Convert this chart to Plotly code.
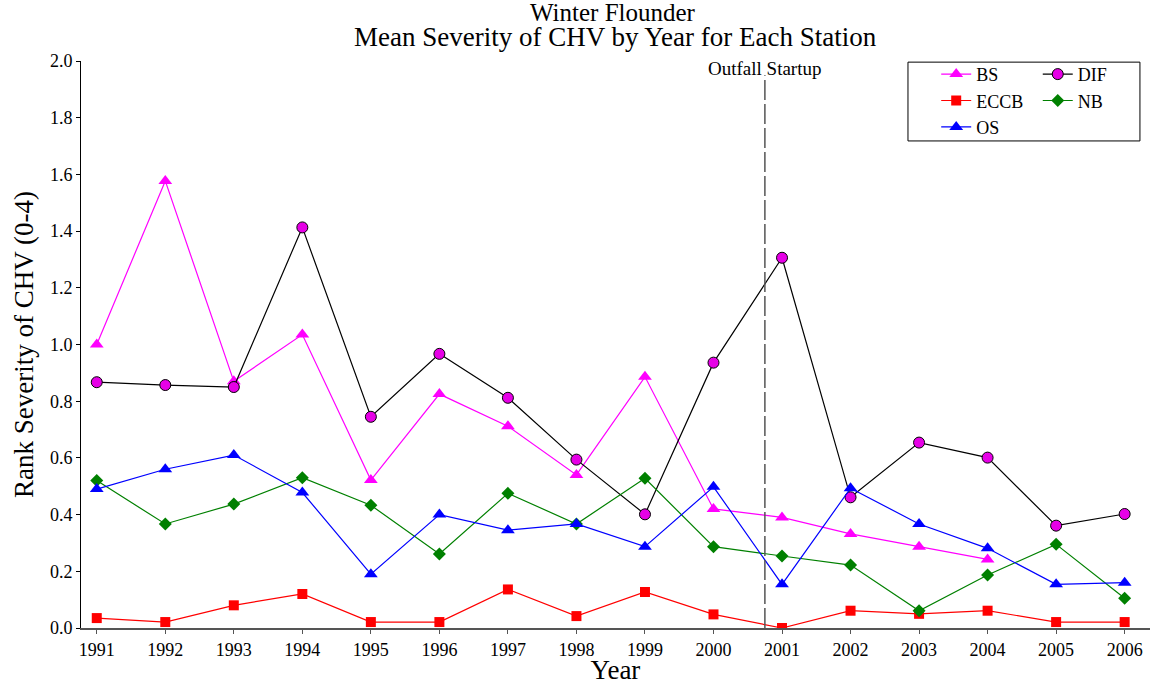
import plotly.graph_objects as go

years = list(range(1991, 2007))

bs = [1.00, 1.577, 0.87, 1.035, 0.522, 0.825, 0.712, 0.54, 0.886, 0.42, 0.39, 0.332, 0.287, 0.242, None, None]
dif = [0.867, 0.857, 0.85, 1.413, 0.745, 0.967, 0.812, 0.594, 0.401, 0.936, 1.306, 0.461, 0.654, 0.601, 0.361, 0.402]
eccb = [0.035, 0.021, 0.08, 0.12, 0.021, 0.021, 0.136, 0.042, 0.127, 0.048, 0.0, 0.061, 0.05, 0.061, 0.021, 0.021]
nb = [0.52, 0.367, 0.437, 0.53, 0.433, 0.261, 0.475, 0.367, 0.528, 0.287, 0.254, 0.222, 0.061, 0.187, 0.295, 0.105]
os_ = [0.49, 0.56, 0.61, 0.478, 0.19, 0.40, 0.345, 0.367, 0.287, 0.498, 0.154, 0.493, 0.367, 0.281, 0.154, 0.16]

startup_year = 2000.75
y_ticks = [0.0, 0.2, 0.4, 0.6, 0.8, 1.0, 1.2, 1.4, 1.6, 1.8, 2.0]

FONT = "Liberation Serif"

fig = go.Figure()

def add(name, vals, color, symbol, size, legend, mcolor=None, mline=None):
    fig.add_trace(go.Scatter(
        x=years, y=vals, name=name, mode="lines+markers", legend=legend,
        line=dict(color=color, width=1.2),
        marker=dict(symbol=symbol, size=size, color=mcolor or color,
                    line=dict(color=mline or (mcolor or color), width=1 if mline else 0)),
        connectgaps=False,
    ))

add("BS", bs, "#FF00FF", "triangle-up", 12, "legend")
add("DIF", dif, "black", "circle", 11, "legend2", mcolor="#E600E6", mline="black")
add("ECCB", eccb, "red", "square", 10, "legend")
add("NB", nb, "green", "diamond", 10, "legend2")
add("OS", os_, "blue", "triangle-up", 12, "legend")

# Outfall startup marker line and label
fig.add_shape(type="line", x0=startup_year, x1=startup_year, y0=0, y1=1.95,
              xref="x", yref="y", line=dict(color="#555555", width=1.5, dash="20px,4px"))
fig.add_annotation(x=startup_year, y=1.972, xref="x", yref="y", text="Outfall Startup",
                   showarrow=False, yanchor="middle",
                   font=dict(family=FONT, size=19, color="black"))

# Titles
fig.add_annotation(x=0.5, y=1, xref="paper", yref="paper", yanchor="bottom", yshift=7,
                   text="Mean Severity of CHV by Year for Each Station", showarrow=False,
                   font=dict(family=FONT, size=27, color="black"))
fig.add_annotation(x=0.498, y=1, xref="paper", yref="paper", yanchor="bottom", yshift=33,
                   text="Winter Flounder", showarrow=False,
                   font=dict(family=FONT, size=25, color="black"))

# Legend frame
fig.add_shape(type="rect", xref="paper", yref="paper", x0=0.7736, x1=0.9906, y0=0.859, y1=0.998,
              line=dict(color="black", width=1), fillcolor="white", layer="above")

leg_common = dict(orientation="v", yanchor="top", y=1.009, xanchor="left",
                  bgcolor="rgba(0,0,0,0)", borderwidth=0,
                  font=dict(family=FONT, size=18, color="black"),
                  itemwidth=30, tracegroupgap=0)

fig.update_layout(
    width=1153, height=685,
    margin=dict(l=81, r=3, t=61, b=57, autoexpand=False),
    paper_bgcolor="white", plot_bgcolor="white",
    font=dict(family=FONT, color="black"),
    showlegend=True,
    legend=dict(x=0.80, **leg_common),
    legend2=dict(x=0.895, **leg_common),
)

fig.update_xaxes(
    range=[1990.77, 2006.37], tickvals=years, ticktext=[str(y) for y in years],
    showgrid=False, zeroline=False, showline=True, linecolor="#555555", linewidth=2,
    ticks="outside", ticklen=4, tickcolor="#555555", automargin=False,
    tickfont=dict(family=FONT, size=18, color="black"),
    title=dict(text="Year", font=dict(family=FONT, size=27, color="black"), standoff=3),
)
fig.update_yaxes(
    range=[0, 2.0], tickvals=y_ticks, ticktext=[f"{v:.1f}" for v in y_ticks],
    showgrid=False, zeroline=False, showline=True, linecolor="black", linewidth=1,
    ticks="outside", ticklen=4, tickcolor="black", automargin=False,
    tickfont=dict(family=FONT, size=18, color="black"),
    title=dict(text="Rank Severity of CHV (0-4)", font=dict(family=FONT, size=27, color="black"), standoff=8),
)

fig.write_html("out.html", config={"displayModeBar": False},
               post_script="document.body.style.margin='0px';")
